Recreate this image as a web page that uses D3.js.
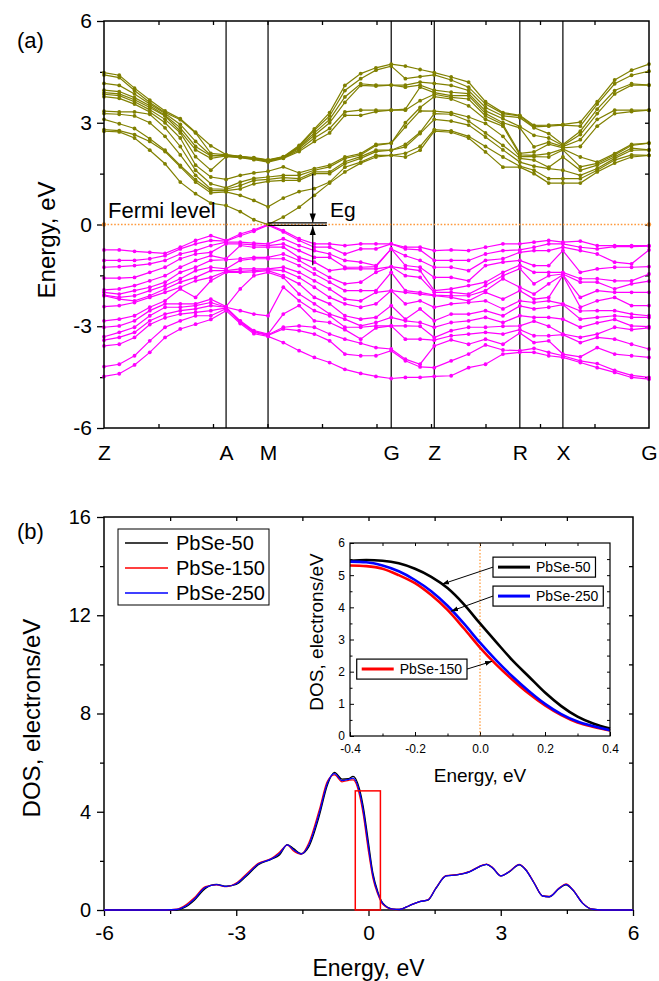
<!DOCTYPE html>
<html>
<head>
<meta charset="utf-8">
<script src="https://cdn.jsdelivr.net/npm/d3@7"></script>
<style>
body { margin: 0; background: #fff; }
svg { display: block; }
</style>
</head>
<body>
<svg id="chart" width="659" height="981"></svg>
<script>
// k-path (distance units of the x axis) and high symmetry points
const kPath = [0, 0.28, 0.56, 0.84, 1.12, 1.40, 1.68, 1.96, 2.24, 2.50, 2.75, 3.01, 3.29, 3.58, 3.86, 4.14, 4.42, 4.71, 4.99, 5.27, 5.53, 5.80, 6.06, 6.37, 6.69, 7.00, 7.32, 7.63, 7.89, 8.16, 8.42, 8.74, 9.05, 9.37, 9.68, 10]
const kTicks = [0, 2.24, 3.01, 5.27, 6.06, 7.63, 8.42, 10]
const kLabels = ["Z", "A", "M", "G", "Z", "R", "X", "G"]

// conduction band energies (eV) at each k point
const conduction = [
  [2.75, 2.80, 3.10, 3.27, 3.34, 3.77, 3.84, 3.89, 3.96, 4.16, 4.41, 4.48],
  [2.73, 2.77, 2.97, 3.25, 3.32, 3.72, 3.80, 3.85, 3.92, 4.10, 4.33, 4.40],
  [2.55, 2.65, 2.83, 3.20, 3.32, 3.55, 3.62, 3.68, 3.74, 3.85, 3.95, 4.02],
  [2.19, 2.45, 2.53, 3.00, 3.25, 3.32, 3.38, 3.45, 3.50, 3.55, 3.60, 3.67],
  [1.79, 2.15, 2.19, 2.60, 2.85, 3.00, 3.10, 3.20, 3.22, 3.27, 3.30, 3.35],
  [1.25, 1.70, 1.74, 2.05, 2.30, 2.55, 2.70, 2.75, 2.85, 2.95, 3.09, 3.12],
  [0.91, 1.25, 1.32, 1.45, 1.60, 1.75, 2.00, 2.20, 2.30, 2.45, 2.70, 2.72],
  [0.63, 0.93, 1.00, 1.05, 1.20, 1.40, 1.60, 1.95, 2.02, 2.04, 2.10, 2.32],
  [0.56, 0.96, 1.00, 1.04, 1.08, 1.33, 2.00, 2.02, 2.03, 2.04, 2.05, 2.06],
  [0.38, 0.86, 1.05, 1.15, 1.25, 1.45, 1.97, 1.98, 1.99, 2.00, 2.00, 2.01],
  [0.14, 0.71, 1.20, 1.30, 1.36, 1.52, 1.91, 1.93, 1.94, 1.95, 1.96, 1.97],
  [0.00, 0.52, 1.27, 1.33, 1.40, 1.57, 1.84, 1.86, 1.88, 1.89, 1.90, 1.91],
  [0.22, 0.78, 1.30, 1.38, 1.45, 1.70, 1.95, 1.96, 1.97, 1.98, 1.99, 2.00],
  [0.51, 0.97, 1.30, 1.35, 1.45, 1.52, 2.15, 2.20, 2.25, 2.28, 2.30, 2.33],
  [0.86, 1.06, 1.50, 1.55, 1.60, 1.65, 2.45, 2.55, 2.63, 2.70, 2.78, 2.82],
  [1.22, 1.25, 1.50, 1.55, 1.70, 1.75, 2.70, 2.83, 3.00, 3.10, 3.20, 3.30],
  [1.55, 1.69, 1.79, 1.85, 1.95, 1.99, 3.22, 3.32, 3.60, 3.76, 3.95, 4.10],
  [1.81, 1.84, 1.95, 2.00, 2.05, 2.09, 3.22, 3.37, 4.10, 4.15, 4.30, 4.45],
  [1.99, 2.04, 2.15, 2.19, 2.33, 2.36, 3.33, 3.37, 4.08, 4.11, 4.55, 4.62],
  [2.04, 2.04, 2.19, 2.19, 2.40, 2.40, 3.37, 3.37, 4.11, 4.11, 4.67, 4.73],
  [1.99, 2.10, 2.29, 2.36, 2.88, 3.00, 3.37, 3.40, 4.05, 4.11, 4.30, 4.67],
  [2.19, 2.30, 2.68, 2.72, 3.35, 3.45, 3.65, 4.05, 4.11, 4.20, 4.36, 4.57],
  [2.75, 2.80, 3.10, 3.27, 3.34, 3.77, 3.84, 3.89, 3.96, 4.16, 4.41, 4.48],
  [2.72, 2.76, 3.05, 3.25, 3.30, 3.70, 3.75, 3.80, 3.90, 4.10, 4.26, 4.35],
  [2.55, 2.60, 2.93, 3.05, 3.17, 3.50, 3.70, 3.80, 3.86, 3.95, 4.05, 4.20],
  [2.14, 2.30, 2.58, 2.70, 2.98, 3.10, 3.20, 3.27, 3.35, 3.45, 3.55, 3.62],
  [1.69, 1.99, 2.20, 2.33, 2.60, 2.90, 2.95, 3.00, 3.12, 3.20, 3.27, 3.30],
  [1.69, 1.72, 1.84, 1.95, 2.00, 2.05, 2.10, 2.85, 2.89, 3.15, 3.20, 3.22],
  [1.50, 1.60, 1.72, 1.90, 2.00, 2.04, 2.14, 2.29, 2.63, 2.85, 2.88, 2.92],
  [1.22, 1.35, 1.65, 1.69, 1.99, 2.09, 2.37, 2.43, 2.55, 2.68, 2.90, 2.93],
  [1.22, 1.35, 1.60, 1.99, 2.20, 2.23, 2.26, 2.30, 2.33, 2.36, 2.93, 2.95],
  [1.22, 1.35, 1.45, 1.60, 1.70, 1.99, 2.30, 2.50, 2.65, 2.75, 2.90, 3.02],
  [1.55, 1.60, 1.65, 1.75, 1.80, 1.84, 2.90, 3.10, 3.27, 3.40, 3.55, 3.62],
  [1.81, 1.90, 1.95, 2.00, 2.05, 2.09, 3.27, 3.37, 3.85, 3.95, 4.15, 4.26],
  [1.99, 2.05, 2.19, 2.25, 2.33, 2.36, 3.33, 3.37, 4.11, 4.15, 4.40, 4.55],
  [2.04, 2.04, 2.20, 2.20, 2.40, 2.40, 3.37, 3.37, 4.11, 4.11, 4.52, 4.73],
]

// valence band energies (eV) at each k point
const valence = [
  [-0.75, -1.06, -1.26, -1.58, -1.93, -2.00, -2.08, -2.10, -2.42, -2.84, -3.03, -3.31, -3.41, -3.58, -4.19, -4.48],
  [-0.75, -1.06, -1.24, -1.58, -1.90, -2.05, -2.15, -2.20, -2.39, -2.79, -2.99, -3.18, -3.33, -3.53, -4.12, -4.40],
  [-0.79, -1.06, -1.21, -1.56, -1.80, -1.95, -2.10, -2.25, -2.30, -2.69, -2.84, -3.03, -3.18, -3.33, -3.87, -4.14],
  [-0.82, -1.01, -1.16, -1.41, -1.66, -1.85, -1.95, -2.10, -2.15, -2.44, -2.54, -2.69, -2.84, -2.95, -3.43, -3.77],
  [-0.85, -0.92, -1.06, -1.26, -1.51, -1.70, -1.80, -1.90, -2.00, -2.25, -2.34, -2.44, -2.64, -2.75, -3.03, -3.33],
  [-0.67, -0.72, -0.87, -1.01, -1.26, -1.41, -1.60, -1.70, -1.85, -1.90, -2.34, -2.44, -2.54, -2.64, -2.84, -3.08],
  [-0.47, -0.57, -0.77, -0.87, -1.06, -1.26, -1.36, -1.56, -1.66, -2.15, -2.34, -2.39, -2.49, -2.59, -2.69, -2.94],
  [-0.33, -0.47, -0.62, -0.82, -0.92, -1.06, -1.26, -1.36, -1.56, -1.66, -2.20, -2.30, -2.39, -2.54, -2.69, -2.80],
  [-0.47, -0.49, -0.52, -0.57, -1.01, -1.04, -1.31, -1.36, -1.38, -1.41, -2.42, -2.44, -2.44, -2.46, -2.48, -2.54],
  [-0.28, -0.33, -0.52, -0.57, -0.62, -1.01, -1.06, -1.31, -1.38, -1.41, -1.90, -2.54, -2.84, -2.86, -2.88, -2.92],
  [-0.16, -0.20, -0.55, -0.60, -0.67, -0.97, -1.01, -1.31, -1.36, -1.40, -1.51, -2.64, -3.13, -3.16, -3.18, -3.22],
  [0.00, -0.02, -0.57, -0.62, -0.67, -0.97, -1.01, -1.31, -1.33, -1.36, -1.41, -2.69, -3.23, -3.25, -3.27, -3.30],
  [-0.18, -0.22, -0.42, -0.57, -0.67, -0.87, -1.01, -1.26, -1.36, -1.51, -1.56, -1.85, -2.64, -3.03, -3.08, -3.48],
  [-0.42, -0.47, -0.62, -0.77, -0.97, -1.06, -1.21, -1.41, -1.56, -1.75, -2.05, -2.25, -2.39, -2.99, -3.13, -3.72],
  [-0.57, -0.67, -0.77, -0.97, -1.11, -1.31, -1.46, -1.66, -1.85, -2.15, -2.34, -2.54, -2.84, -3.03, -3.23, -3.92],
  [-0.57, -0.67, -0.87, -0.97, -1.36, -1.56, -1.70, -1.90, -2.15, -2.34, -2.64, -2.69, -2.89, -3.23, -3.43, -4.07],
  [-0.62, -0.87, -1.06, -1.26, -1.30, -1.75, -1.95, -2.20, -2.34, -2.69, -2.79, -3.03, -3.10, -3.38, -3.82, -4.27],
  [-0.57, -0.72, -1.11, -1.26, -1.31, -1.70, -1.95, -2.25, -2.44, -2.79, -2.99, -3.03, -3.38, -3.50, -3.87, -4.39],
  [-0.57, -0.72, -1.21, -1.24, -1.31, -1.41, -1.95, -2.00, -2.34, -2.74, -2.89, -2.99, -3.05, -3.63, -3.87, -4.48],
  [-0.57, -0.57, -0.72, -0.72, -1.24, -1.24, -1.41, -1.95, -1.95, -2.39, -2.74, -2.99, -2.99, -3.67, -3.72, -4.54],
  [-0.67, -0.72, -0.92, -1.21, -1.30, -1.51, -1.95, -2.00, -2.34, -2.79, -2.84, -2.99, -3.38, -3.97, -4.02, -4.51],
  [-0.67, -0.75, -1.06, -1.26, -1.36, -1.56, -2.00, -2.05, -2.25, -2.49, -2.89, -3.00, -3.38, -4.12, -4.20, -4.51],
  [-0.77, -1.06, -1.26, -1.56, -1.95, -2.00, -2.08, -2.10, -2.44, -2.84, -3.03, -3.33, -3.41, -3.58, -4.22, -4.48],
  [-0.75, -1.06, -1.26, -1.56, -1.90, -2.00, -2.10, -2.15, -2.34, -2.64, -2.89, -3.13, -3.28, -3.40, -4.02, -4.46],
  [-0.77, -1.06, -1.36, -1.66, -1.80, -2.05, -2.10, -2.25, -2.30, -2.64, -2.84, -3.03, -3.23, -3.53, -3.82, -4.22],
  [-0.67, -0.87, -1.06, -1.21, -1.70, -1.80, -1.95, -2.00, -2.25, -2.54, -2.74, -3.03, -3.18, -3.38, -3.55, -4.12],
  [-0.57, -0.77, -1.01, -1.11, -1.41, -1.51, -1.60, -2.20, -2.49, -2.69, -2.89, -3.00, -3.23, -3.53, -3.70, -3.82],
  [-0.57, -0.75, -0.82, -1.06, -1.20, -1.30, -1.85, -1.95, -2.25, -2.40, -2.69, -2.99, -3.10, -3.20, -3.72, -3.77],
  [-0.52, -0.67, -0.77, -1.21, -1.41, -1.75, -2.05, -2.20, -2.30, -2.49, -2.74, -2.85, -3.28, -3.48, -3.65, -3.77],
  [-0.47, -0.57, -0.77, -1.21, -1.41, -1.51, -1.75, -2.15, -2.25, -2.44, -2.74, -3.00, -3.28, -3.43, -3.77, -3.87],
  [-0.52, -0.57, -0.67, -0.77, -1.41, -1.46, -1.48, -1.50, -2.34, -2.36, -2.79, -3.23, -3.25, -3.82, -3.87, -3.92],
  [-0.49, -0.67, -0.77, -1.41, -1.60, -1.70, -2.15, -2.44, -2.55, -2.79, -3.03, -3.33, -3.48, -3.90, -4.02, -4.07],
  [-0.62, -0.72, -0.87, -1.31, -1.60, -1.70, -1.95, -2.25, -2.54, -2.74, -2.90, -3.23, -3.33, -3.63, -4.10, -4.22],
  [-0.62, -0.65, -1.11, -1.26, -1.66, -1.90, -2.00, -2.15, -2.54, -2.69, -2.80, -3.03, -3.38, -3.82, -4.30, -4.36],
  [-0.62, -0.65, -1.16, -1.26, -1.66, -1.75, -2.00, -2.39, -2.64, -2.74, -2.99, -3.10, -3.53, -3.87, -4.45, -4.51],
  [-0.62, -0.64, -0.75, -1.24, -1.46, -1.67, -2.00, -2.39, -2.69, -2.74, -3.01, -3.05, -3.67, -3.92, -4.51, -4.56],
]

// total DOS (electrons/eV) vs energy (eV)
const dosEnergy = [-6, -4.6, -4.35, -4.15, -3.95, -3.7, -3.45, -3.22, -3.0, -2.78, -2.5, -2.2, -2.02, -1.84, -1.7, -1.53, -1.35, -1.12, -0.93, -0.77, -0.6, -0.45, -0.35, -0.2, -0.12, -0.01, 0.1, 0.21, 0.33, 0.55, 0.7, 0.93, 1.16, 1.35, 1.53, 1.76, 2.0, 2.3, 2.52, 2.68, 2.82, 3.0, 3.2, 3.42, 3.57, 3.76, 3.95, 4.1, 4.33, 4.48, 4.63, 4.86, 5.08, 5.3, 6]
const dos50 = [0, 0, 0, 0.12, 0.4, 0.88, 1.04, 0.97, 1.04, 1.36, 1.84, 2.07, 2.24, 2.66, 2.5, 2.29, 2.59, 3.81, 5.1, 5.6, 5.33, 5.35, 5.44, 4.9, 4.22, 2.86, 1.5, 0.75, 0.27, 0.04, 0.02, 0.18, 0.34, 0.4, 0.88, 1.39, 1.43, 1.56, 1.77, 1.86, 1.7, 1.39, 1.56, 1.84, 1.63, 1.09, 0.57, 0.54, 0.88, 1.02, 0.82, 0.27, 0.03, 0, 0]
const dos150 = [0, 0, 0.03, 0.2, 0.5, 0.95, 1.02, 0.95, 1.1, 1.45, 1.9, 2.1, 2.35, 2.64, 2.4, 2.27, 2.75, 4.05, 5.25, 5.5, 5.22, 5.28, 5.3, 4.65, 3.9, 2.5, 1.3, 0.65, 0.22, 0.03, 0.02, 0.18, 0.34, 0.42, 0.9, 1.4, 1.44, 1.57, 1.78, 1.87, 1.72, 1.39, 1.58, 1.86, 1.64, 1.1, 0.57, 0.55, 0.9, 1.06, 0.84, 0.28, 0.03, 0, 0]
const dos250 = [0, 0, 0.02, 0.16, 0.45, 0.92, 1.03, 0.96, 1.07, 1.4, 1.87, 2.08, 2.3, 2.65, 2.45, 2.28, 2.67, 3.93, 5.18, 5.55, 5.27, 5.32, 5.37, 4.78, 4.06, 2.68, 1.4, 0.7, 0.25, 0.035, 0.02, 0.18, 0.34, 0.41, 0.89, 1.39, 1.43, 1.56, 1.77, 1.86, 1.71, 1.39, 1.57, 1.85, 1.63, 1.09, 0.57, 0.54, 0.89, 1.04, 0.83, 0.27, 0.03, 0, 0]

// inset: DOS near the Fermi level
const insetEnergy = [-0.4, -0.35, -0.3, -0.25, -0.2, -0.15, -0.1, -0.05, 0, 0.05, 0.1, 0.15, 0.2, 0.25, 0.3, 0.35, 0.4]
const inset50 = [5.45, 5.47, 5.45, 5.37, 5.2, 4.95, 4.6, 4.1, 3.5, 2.92, 2.35, 1.85, 1.35, 0.93, 0.6, 0.38, 0.23]
const inset150 = [5.3, 5.28, 5.2, 5.0, 4.75, 4.38, 3.92, 3.35, 2.75, 2.22, 1.75, 1.32, 0.95, 0.65, 0.42, 0.28, 0.17]
const inset250 = [5.42, 5.4, 5.3, 5.12, 4.85, 4.5, 4.05, 3.5, 2.9, 2.35, 1.85, 1.4, 1.0, 0.68, 0.45, 0.3, 0.18]

const seriesNames = ["PbSe-50", "PbSe-150", "PbSe-250"]
const seriesColors = ["#000000", "#ff0000", "#0000ff"]
const zoomBox = { e0: -0.3, e1: 0.27, top: 4.85 }

const font = '"Liberation Sans", Arial, Helvetica, sans-serif'
const olive = "#808000"
const magenta = "#ff00ff"
const fermi = "#ff9a3c"

const svg = d3.select("#chart").attr("font-family", font)

const defs = svg.append("defs")
const addArrow = (id, size) =>
  defs
    .append("marker")
    .attr("id", id)
    .attr("viewBox", "0 0 10 10")
    .attr("refX", 10)
    .attr("refY", 5)
    .attr("markerWidth", size)
    .attr("markerHeight", size)
    .attr("markerUnits", "userSpaceOnUse")
    .attr("orient", "auto")
    .append("path")
    .attr("d", "M0,1.5L10,5L0,8.5Z")
    .attr("fill", "#000")
addArrow("arrowBig", 9)
addArrow("arrowSmall", 7)

const tidy = (g, size) => {
  g.select(".domain").remove()
  g.selectAll("text").attr("font-size", size).attr("font-family", font).attr("fill", "#000")
  g.selectAll("line").attr("stroke", "#000").attr("stroke-width", 1.3)
}

// ---------------- panel (a): band structure ----------------
const xA = d3.scaleLinear().domain([0, 10]).range([104, 649])
const yA = d3.scaleLinear().domain([-6, 6]).range([428, 21])

const pa = svg.append("g")

pa.append("g")
  .attr("transform", `translate(${xA(0)},0)`)
  .call(d3.axisLeft(yA).tickValues([-6, -3, 0, 3, 6]).tickSize(7).tickPadding(5).tickFormat(d => String(d)))
  .call(g => tidy(g, 21))
pa.append("g")
  .attr("transform", `translate(${xA(0)},0)`)
  .call(d3.axisLeft(yA).tickValues([-4.5, -1.5, 1.5, 4.5]).tickSize(4).tickFormat(""))
  .call(g => tidy(g, 21))
pa.append("g")
  .attr("transform", `translate(${xA(10)},0)`)
  .call(d3.axisLeft(yA).tickValues([-4.5, -3, -1.5, 0, 1.5, 3, 4.5]).tickSize(4).tickFormat(""))
  .call(g => tidy(g, 21))
pa.append("g")
  .attr("transform", `translate(0,${yA(6)})`)
  .call(d3.axisBottom(xA).tickValues(d3.range(1, 10)).tickSize(4).tickFormat(""))
  .call(g => tidy(g, 21))
pa.append("g")
  .attr("transform", `translate(0,${yA(-6)})`)
  .call(d3.axisTop(xA).tickValues(d3.range(1, 10)).tickSize(4).tickFormat(""))
  .call(g => tidy(g, 21))
pa.append("g")
  .attr("transform", `translate(0,${yA(-6)})`)
  .call(d3.axisBottom(xA).tickValues(kTicks).tickSize(0).tickPadding(17).tickFormat((d, i) => kLabels[i]))
  .call(g => tidy(g, 21))

pa.append("g")
  .selectAll("line")
  .data(kTicks.slice(1, -1))
  .join("line")
  .attr("x1", d => xA(d))
  .attr("x2", d => xA(d))
  .attr("y1", yA(6))
  .attr("y2", yA(-6))
  .attr("stroke", "#000")
  .attr("stroke-width", 1.2)

// fermi level
pa.append("line")
  .attr("x1", xA(0))
  .attr("x2", xA(10))
  .attr("y1", yA(0))
  .attr("y2", yA(0))
  .attr("stroke", fermi)
  .attr("stroke-width", 1.6)
  .attr("stroke-dasharray", "1.6,1.8")
pa.selectAll(".fdot")
  .data([0, 10])
  .join("circle")
  .attr("class", "fdot")
  .attr("cx", d => xA(d))
  .attr("cy", yA(0))
  .attr("r", 2.2)
  .attr("fill", fermi)

const toBands = rows =>
  d3.range(rows[0].length).map(i => rows.map((r, k) => ({ x: kPath[k], y: d3.sort(r)[i] })))
const bandLine = d3
  .line()
  .x(d => xA(d.x))
  .y(d => yA(d.y))

const drawBands = (bands, color) => {
  const g = pa.append("g")
  g.selectAll("path")
    .data(bands)
    .join("path")
    .attr("d", bandLine)
    .attr("fill", "none")
    .attr("stroke", color)
    .attr("stroke-width", 1.2)
  g.selectAll("circle")
    .data(bands.flat())
    .join("circle")
    .attr("cx", d => xA(d.x))
    .attr("cy", d => yA(d.y))
    .attr("r", 1.9)
    .attr("fill", color)
}
drawBands(toBands(valence), magenta)
drawBands(toBands(conduction), olive)

pa.append("rect")
  .attr("x", xA(0))
  .attr("y", yA(6))
  .attr("width", xA(10) - xA(0))
  .attr("height", yA(-6) - yA(6))
  .attr("fill", "none")
  .attr("stroke", "#000")
  .attr("stroke-width", 1.5)

// band gap annotation
const egX = 3.83
const egEnd = 4.09
;[0.045, -0.025].forEach(e => {
  pa.append("line")
    .attr("x1", xA(kTicks[2]))
    .attr("x2", xA(egEnd))
    .attr("y1", yA(e))
    .attr("y2", yA(e))
    .attr("stroke", "#000")
    .attr("stroke-width", 1.2)
})
pa.append("line")
  .attr("x1", xA(egX))
  .attr("x2", xA(egX))
  .attr("y1", yA(1.5))
  .attr("y2", yA(0.06))
  .attr("stroke", "#000")
  .attr("stroke-width", 1.2)
  .attr("marker-end", "url(#arrowBig)")
pa.append("line")
  .attr("x1", xA(egX))
  .attr("x2", xA(egX))
  .attr("y1", yA(-1.2))
  .attr("y2", yA(-0.05))
  .attr("stroke", "#000")
  .attr("stroke-width", 1.2)
  .attr("marker-end", "url(#arrowBig)")
pa.append("text").attr("x", 330).attr("y", 217).attr("font-size", 21).text("Eg")
pa.append("text").attr("x", 108).attr("y", 218).attr("font-size", 22).text("Fermi level")
pa.append("text").attr("x", 17).attr("y", 48).attr("font-size", 22).text("(a)")
pa.append("text")
  .attr("transform", "translate(55,240) rotate(-90)")
  .attr("text-anchor", "middle")
  .attr("font-size", 24)
  .text("Energy, eV")

// ---------------- panel (b): DOS ----------------
const xB = d3.scaleLinear().domain([-6, 6]).range([104, 633])
const yB = d3.scaleLinear().domain([0, 16]).range([910, 517])
const pb = svg.append("g")

pb.append("g")
  .attr("transform", `translate(${xB(-6)},0)`)
  .call(d3.axisLeft(yB).tickValues([0, 4, 8, 12, 16]).tickSize(7).tickPadding(6).tickFormat(d => String(d)))
  .call(g => tidy(g, 20))
pb.append("g")
  .attr("transform", `translate(${xB(-6)},0)`)
  .call(d3.axisLeft(yB).tickValues([2, 6, 10, 14]).tickSize(4).tickFormat(""))
  .call(g => tidy(g, 20))
pb.append("g")
  .attr("transform", `translate(${xB(6)},0)`)
  .call(d3.axisLeft(yB).tickValues(d3.range(2, 16, 2)).tickSize(4).tickFormat(""))
  .call(g => tidy(g, 20))
pb.append("g")
  .attr("transform", `translate(0,${yB(0)})`)
  .call(d3.axisBottom(xB).tickValues([-6, -3, 0, 3, 6]).tickSize(6).tickPadding(9).tickFormat(d => String(d)))
  .call(g => tidy(g, 21))
pb.append("g")
  .attr("transform", `translate(0,${yB(0)})`)
  .call(d3.axisBottom(xB).tickValues([-4.5, -1.5, 1.5, 4.5]).tickSize(4).tickFormat(""))
  .call(g => tidy(g, 21))
pb.append("g")
  .attr("transform", `translate(0,${yB(16)})`)
  .call(d3.axisBottom(xB).tickValues([-4.5, -3, -1.5, 0, 1.5, 3, 4.5]).tickSize(4).tickFormat(""))
  .call(g => tidy(g, 21))

pb.append("rect")
  .attr("x", xB(-6))
  .attr("y", yB(16))
  .attr("width", xB(6) - xB(-6))
  .attr("height", yB(0) - yB(16))
  .attr("fill", "none")
  .attr("stroke", "#000")
  .attr("stroke-width", 1.5)

const dosSeries = [dos50, dos150, dos250]
const dosLine = d3
  .line()
  .x(d => xB(d[0]))
  .y(d => yB(d[1]))
  .curve(d3.curveMonotoneX)
pb.append("g")
  .selectAll("path")
  .data(dosSeries)
  .join("path")
  .attr("d", s => dosLine(dosEnergy.map((e, i) => [e, s[i]])))
  .attr("fill", "none")
  .attr("stroke", (s, i) => seriesColors[i])
  .attr("stroke-width", 1.3)

pb.append("rect")
  .attr("x", xB(zoomBox.e0))
  .attr("y", yB(zoomBox.top))
  .attr("width", xB(zoomBox.e1) - xB(zoomBox.e0))
  .attr("height", yB(0) - yB(zoomBox.top))
  .attr("fill", "none")
  .attr("stroke", "#ff0000")
  .attr("stroke-width", 1.5)

// legend
const lg = pb.append("g").attr("transform", "translate(118,529)")
lg.append("rect").attr("width", 151).attr("height", 76).attr("fill", "#fff").attr("stroke", "#000").attr("stroke-width", 1)
seriesNames.forEach((name, i) => {
  const y = 14 + i * 25
  lg.append("line").attr("x1", 7).attr("x2", 50).attr("y1", y).attr("y2", y).attr("stroke", seriesColors[i]).attr("stroke-width", 1.3)
  lg.append("text").attr("x", 58).attr("y", y + 7).attr("font-size", 20).text(name)
})

pb.append("text").attr("x", 17).attr("y", 539).attr("font-size", 22).text("(b)")
pb.append("text")
  .attr("transform", "translate(40,718) rotate(-90)")
  .attr("text-anchor", "middle")
  .attr("font-size", 24)
  .text("DOS, electrons/eV")
pb.append("text")
  .attr("x", xB(0))
  .attr("y", 976)
  .attr("text-anchor", "middle")
  .attr("font-size", 23)
  .text("Energy, eV")

// ---------------- inset ----------------
const xI = d3.scaleLinear().domain([-0.4, 0.4]).range([350, 610])
const yI = d3.scaleLinear().domain([0, 6]).range([736, 543])
const pi = svg.append("g")

pi.append("g")
  .attr("transform", `translate(${xI(-0.4)},0)`)
  .call(d3.axisLeft(yI).tickValues(d3.range(0, 7)).tickSize(-4).tickPadding(5).tickFormat(d => String(d)))
  .call(g => tidy(g, 12))
pi.append("g")
  .attr("transform", `translate(${xI(-0.4)},0)`)
  .call(d3.axisLeft(yI).tickValues(d3.range(0.5, 6, 1)).tickSize(-2.5).tickFormat(""))
  .call(g => tidy(g, 12))
pi.append("g")
  .attr("transform", `translate(${xI(0.4)},0)`)
  .call(d3.axisLeft(yI).tickValues(d3.range(0.5, 6, 0.5)).tickSize(3).tickFormat(""))
  .call(g => tidy(g, 12))
pi.append("g")
  .attr("transform", `translate(0,${yI(0)})`)
  .call(d3.axisBottom(xI).tickValues([-0.4, -0.2, 0, 0.2, 0.4]).tickSize(-4).tickPadding(8).tickFormat(d => d.toFixed(1)))
  .call(g => tidy(g, 12))
pi.append("g")
  .attr("transform", `translate(0,${yI(0)})`)
  .call(d3.axisBottom(xI).tickValues([-0.3, -0.1, 0.1, 0.3]).tickSize(-2.5).tickFormat(""))
  .call(g => tidy(g, 12))
pi.append("g")
  .attr("transform", `translate(0,${yI(6)})`)
  .call(d3.axisBottom(xI).tickValues([-0.3, -0.2, -0.1, 0, 0.1, 0.2, 0.3]).tickSize(3).tickFormat(""))
  .call(g => tidy(g, 12))
pi.selectAll("g line").attr("stroke-width", 1)

pi.append("line")
  .attr("x1", xI(0))
  .attr("x2", xI(0))
  .attr("y1", yI(6))
  .attr("y2", yI(0))
  .attr("stroke", fermi)
  .attr("stroke-width", 1.3)
  .attr("stroke-dasharray", "1.5,1.8")

const insetSeries = [inset50, inset150, inset250]
const insetLine = d3
  .line()
  .x(d => xI(d[0]))
  .y(d => yI(d[1]))
  .curve(d3.curveMonotoneX)
pi.append("g")
  .selectAll("path")
  .data(insetSeries)
  .join("path")
  .attr("d", s => insetLine(insetEnergy.map((e, i) => [e, s[i]])))
  .attr("fill", "none")
  .attr("stroke", (s, i) => seriesColors[i])
  .attr("stroke-width", 2.6)

pi.append("rect")
  .attr("x", xI(-0.4))
  .attr("y", yI(6))
  .attr("width", xI(0.4) - xI(-0.4))
  .attr("height", yI(0) - yI(6))
  .attr("fill", "none")
  .attr("stroke", "#000")
  .attr("stroke-width", 1.2)

// inset labels with pointers
const insetNotes = [
  { i: 0, boxE: 0.04, boxD: 5.25, tipE: -0.117, tipD: 4.72, side: "left" },
  { i: 2, boxE: 0.04, boxD: 4.35, tipE: -0.089, tipD: 3.88, side: "left" },
  { i: 1, boxE: -0.04, boxD: 2.08, tipE: 0.037, tipD: 2.32, side: "right" },
]
insetNotes.forEach(n => {
  const g = pi.append("g")
  const t = g.append("text").attr("font-size", 14).text(seriesNames[n.i])
  const w = 5 + 32 + 6 + t.node().getComputedTextLength() + 5
  const bx = n.side === "left" ? xI(n.boxE) : xI(n.boxE) - w
  const by = yI(n.boxD) - 10
  g.insert("rect", "text")
    .attr("x", bx)
    .attr("y", by)
    .attr("width", w)
    .attr("height", 20)
    .attr("fill", "#fff")
    .attr("stroke", "#000")
    .attr("stroke-width", 1.2)
  g.append("line")
    .attr("x1", bx + 5)
    .attr("x2", bx + 37)
    .attr("y1", by + 10)
    .attr("y2", by + 10)
    .attr("stroke", seriesColors[n.i])
    .attr("stroke-width", 3)
  t.attr("x", bx + 43).attr("y", by + 15)
  g.append("line")
    .attr("x1", xI(n.boxE))
    .attr("y1", yI(n.boxD))
    .attr("x2", xI(n.tipE))
    .attr("y2", yI(n.tipD))
    .attr("stroke", "#000")
    .attr("stroke-width", 1)
    .attr("marker-end", "url(#arrowSmall)")
})

pi.append("text")
  .attr("x", xI(0))
  .attr("y", 782)
  .attr("text-anchor", "middle")
  .attr("font-size", 19)
  .text("Energy, eV")
pi.append("text")
  .attr("transform", "translate(323,632) rotate(-90)")
  .attr("text-anchor", "middle")
  .attr("font-size", 19)
  .text("DOS, electrons/eV")
</script>
</body>
</html>
